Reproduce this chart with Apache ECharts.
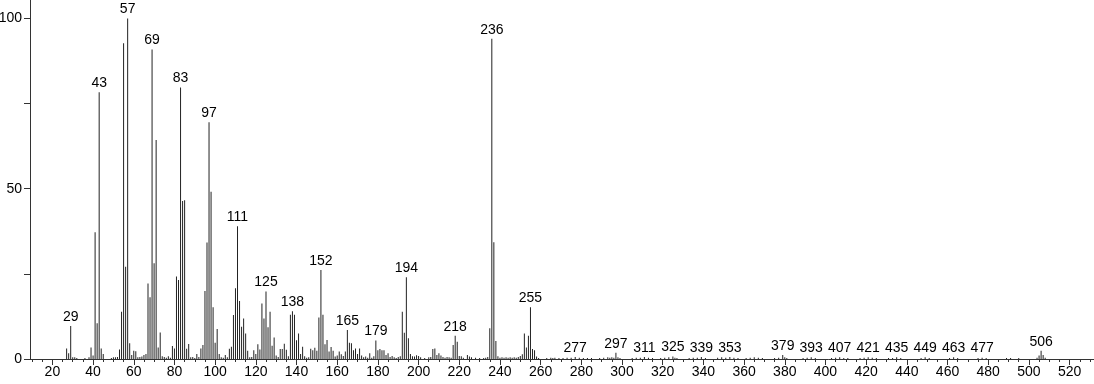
<!DOCTYPE html>
<html>
<head>
<meta charset="utf-8">
<script src="https://cdn.jsdelivr.net/npm/echarts@6/dist/echarts.min.js"></script>
<style>
html,body{margin:0;padding:0;background:#fff;}
#chart{width:1094px;height:384px;}
</style>
</head>
<body>
<div id="chart"></div>
<script>
// m/z values and relative intensities
const mzValues = [
  27,28,29,30,31,32,36,38,39,40,41,42,43,44,45,49,50,51,52,53,54,55,56,57,58,59,60,61,62,63,64,65,66,67,68,69,70,71,72,73,74,75,76,77,78,79,80,
  81,82,83,84,85,86,87,88,89,90,91,92,93,94,95,96,97,98,99,100,101,102,103,104,105,106,107,108,109,110,111,112,113,114,115,116,117,118,119,120,
  121,122,123,124,125,126,127,128,129,130,131,132,133,134,135,136,137,138,139,140,141,142,143,144,145,146,147,148,149,150,151,152,153,154,155,156,157,158,159,160,
  161,162,163,164,165,166,167,168,169,170,171,172,173,174,175,176,177,178,179,180,181,182,183,184,185,186,187,188,189,190,191,192,193,194,195,196,197,198,199,200,
  201,203,205,206,207,208,209,210,211,212,213,214,215,216,217,218,219,220,221,222,224,225,226,228,230,232,233,234,235,236,237,238,239,240,
  241,242,243,244,245,246,247,248,249,250,251,252,253,254,255,256,257,258,259,
  263,265,266,267,269,271,273,275,277,279,281,283,285,289,291,293,294,295,296,297,298,299,
  305,307,309,311,313,315,319,321,323,325,326,327,333,335,337,339,341,347,349,351,353,355,357,
  361,363,365,367,369,375,377,379,380,381,389,391,393,395,403,405,407,409,411,417,419,421,423,425,
  431,433,435,437,447,449,451,461,463,465,475,477,479,489,491,495,504,505,506,507,508
];
const intensities = [
  3.1,1.7,9.7,0.5,0.5,0.3,0.3,0.5,3.4,1.0,37.2,10.5,78.3,3.1,1.5,0.3,0.5,0.5,0.6,2.8,13.9,92.7,27.1,100,4.6,1.2,2.4,2.3,0.5,0.6,0.7,1.2,1.5,22.2,18.1,90.9,28.1,64.3,3.4,7.8,0.8,0.6,0.4,0.8,0.4,3.8,3.1,
  24.2,23.2,79.7,46.4,46.6,3.0,4.4,0.5,0.6,0.3,1.5,0.6,3.1,4.1,20.0,34.2,69.5,49.1,15.2,4.8,8.8,1.5,0.5,0.4,1.2,0.5,3.0,3.6,12.9,20.8,39.0,17.0,9.5,11.9,7.5,2.4,0.5,0.6,2.6,1.5,
  4.3,2.8,16.3,11.9,19.8,9.3,13.9,3.9,6.3,1.0,0.6,2.9,2.9,4.5,2.7,0.8,13.0,14.0,13.0,5.5,7.5,1.5,3.6,0.8,0.4,0.5,3.0,2.6,3.3,2.4,12.2,26.1,13.0,4.3,5.6,2.2,3.5,2.4,0.7,1.0,
  2.2,1.4,0.9,2.2,8.5,4.8,4.6,2.6,3.1,1.5,3.1,1.0,0.5,0.7,0.4,1.7,0.4,0.8,5.4,2.6,2.9,2.6,2.6,1.2,1.7,0.6,0.9,0.5,0.3,0.6,0.8,13.9,7.7,24.0,6.1,1.5,0.8,0.7,1.1,0.9,
  0.5,0.3,0.5,0.6,2.9,3.1,1.2,1.7,1.0,0.6,0.4,0.6,0.5,0.4,4.1,6.8,5.1,0.9,0.8,0.4,1.2,0.7,0.5,0.4,0.3,0.3,0.4,0.6,9.0,94.0,34.3,5.3,0.8,0.4,
  0.5,0.4,0.5,0.4,0.5,0.4,0.5,0.4,0.6,0.9,1.4,7.5,3.4,6.8,15.2,2.9,2.6,0.7,0.3,
  0.3,0.4,0.3,0.4,0.3,0.3,0.4,0.4,0.6,0.4,0.3,0.3,0.3,0.3,0.4,0.5,0.4,0.5,0.4,1.8,0.5,0.3,
  0.3,0.4,0.4,0.6,0.4,0.3,0.3,0.4,0.5,0.7,0.4,0.3,0.3,0.4,0.4,0.6,0.3,0.4,0.5,0.4,0.6,0.4,0.3,
  0.3,0.4,0.5,0.4,0.3,0.3,0.4,1.2,0.5,0.3,0.3,0.4,0.5,0.3,0.3,0.4,0.5,0.3,0.3,0.3,0.4,0.5,0.4,0.3,
  0.3,0.3,0.5,0.3,0.3,0.5,0.3,0.3,0.5,0.3,0.3,0.4,0.3,0.3,0.3,0.3,0.4,1.0,2.4,1.2,0.4
];
// peaks that carry an m/z label
const labeledPeaks = [29,43,57,69,83,97,111,125,138,152,165,179,194,218,236,255,277,297,311,325,339,353,379,393,407,421,435,449,463,477,506];
// axis ticks
const xTickValues = [20,40,60,80,100,120,140,160,180,200,220,240,260,280,300,320,340,360,380,400,420,440,460,480,500,520];
const yTickValues = [0,25,50,75,100];
const yLabelValues = [0,50,100];

const minorTicks = [];
for (let v = 10; v <= 530; v += 5) { if (v % 20 !== 0) minorTicks.push(v); }

const data = mzValues.map((m, i) => ({
  value: [m, intensities[i]],
  label: { show: labeledPeaks.includes(m) }
}));

const chart = echarts.init(document.getElementById('chart'), null, { renderer: 'canvas' });
const FONT = '"Liberation Sans", Arial, sans-serif';
chart.setOption({
  animation: false,
  backgroundColor: '#ffffff',
  grid: { left: 30, right: 0, top: 0, bottom: 25, containLabel: false, outerBoundsMode: 'none' },
  xAxis: [{
    type: 'value', min: 9, max: 532,
    axisLine: { show: true, lineStyle: { color: '#333', width: 1 } },
    axisTick: { show: true, customValues: xTickValues, length: 6, lineStyle: { color: '#333' } },
    axisLabel: { customValues: xTickValues, color: '#000', fontSize: 14, fontFamily: FONT, margin: 6 },
    splitLine: { show: false }
  }, {
    type: 'value', min: 9, max: 532, position: 'bottom',
    axisLine: { show: false },
    axisTick: { show: true, customValues: minorTicks, length: 3, lineStyle: { color: '#333' } },
    axisLabel: { show: false },
    splitLine: { show: false }
  }],
  yAxis: {
    type: 'value', min: 0, max: 105.4,
    axisLine: { show: true, lineStyle: { color: '#333', width: 1 } },
    axisTick: { show: true, customValues: yTickValues, length: 6, lineStyle: { color: '#333' } },
    axisLabel: { customValues: yLabelValues, color: '#000', fontSize: 14, fontFamily: FONT, margin: 8 },
    splitLine: { show: false }
  },
  series: [{
    type: 'bar',
    xAxisIndex: 0,
    barWidth: 1,
    itemStyle: { color: '#222' },
    label: { position: 'top', distance: 2, color: '#000', fontSize: 14, fontFamily: FONT, formatter: p => String(p.value[0]) },
    data: data
  }]
});
</script>
</body>
</html>
